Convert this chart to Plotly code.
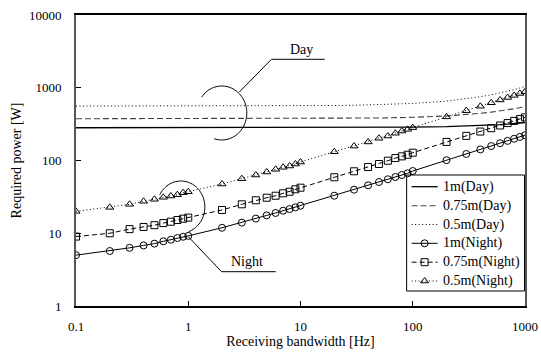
import numpy as np
import plotly.graph_objects as go

# ---------------- data ----------------
bandwidth = [0.1, 0.2, 0.3, 0.4, 0.5, 0.6, 0.7, 0.8, 0.9,
             1, 2, 3, 4, 5, 6, 7, 8, 9,
             10, 20, 30, 40, 50, 60, 70, 80, 90,
             100, 200, 300, 400, 500, 600, 700, 800, 900, 1000]

day_1m = [282, 282, 282, 282, 282, 282, 282, 282, 282,
          282, 282.1, 282.2, 282.2, 282.3, 282.3, 282.4, 282.4, 282.5,
          282.5, 283, 283.5, 284, 284.5, 285, 285.5, 286, 286.5,
          287, 292, 297, 302, 307, 312, 317, 322, 327, 332]
day_075m = [375, 375, 375, 375, 375, 375, 375, 375, 375,
            375, 375.3, 375.5, 375.7, 375.9, 376, 376.2, 376.4, 376.6,
            376.7, 378.5, 380.2, 382, 383.7, 385.4, 387.2, 388.9, 390.7,
            392.4, 410, 427, 445, 462, 479, 497, 514, 532, 549]
day_05m = [560, 560, 560, 560, 560, 560, 560, 560, 560,
           560, 561, 561.4, 562, 562.4, 563, 563.4, 564, 564.3,
           565, 570, 574, 579, 584, 589, 594, 598, 603,
           608, 656, 704, 752, 800, 848, 896, 944, 992, 1040]
night_1m = [5.0, 5.7, 6.3, 6.8, 7.2, 7.75, 8.15, 8.6, 8.95,
            9.2, 11.9, 14.0, 15.9, 17.6, 19.0, 20.4, 21.5, 22.7,
            23.9, 32.8, 39.7, 45.6, 50.6, 55.2, 59.3, 63.2, 66.7,
            71.7, 101, 123, 142, 158, 173, 186, 199, 211, 223]
night_075m = [9.0, 10.0, 11.4, 12.2, 12.9, 13.8, 14.4, 15.2, 15.85,
              16.4, 20.9, 25.0, 28.4, 30.8, 32.8, 35.4, 37.2, 40.2,
              42.3, 58.8, 71.1, 81.4, 89.5, 99.3, 108, 114, 120,
              128, 180, 218, 250, 278, 303, 327, 350, 371, 392]
night_05m = [20.0, 22.7, 25.0, 27.5, 29.3, 31.2, 32.5, 33.9, 36.1,
             37.2, 47.5, 56.2, 63.2, 69.5, 75.7, 80.7, 84.0, 89.5,
             95.3, 132, 158, 180, 202, 217, 237, 254, 268,
             283, 398, 484, 557, 622, 680, 735, 786, 835, 883]

series_names = ["1m(Day)", "0.75m(Day)", "0.5m(Day)",
                "1m(Night)", "0.75m(Night)", "0.5m(Night)"]
series_values = [day_1m, day_075m, day_05m, night_1m, night_075m, night_05m]

x_ticks = [0.1, 1, 10, 100, 1000]
x_ticktext = ["0.1", "1", "10", "100", "1000"]
y_ticks = [1, 10, 100, 1000, 10000]
y_ticktext = ["1", "10", "100", "1000", "10000"]

# ---------------- styles ----------------
line_styles = [
    dict(color="black", width=1.3),
    dict(color="#444444", width=1.1, dash="6px,3px"),
    dict(color="black", width=1, dash="1px,2.5px"),
    dict(color="black", width=1),
    dict(color="black", width=1, dash="5px,3px"),
    dict(color="black", width=1, dash="1px,2.5px"),
]
marker_symbols = [None, None, None, "circle-open", "square-open", "triangle-up-open"]

# ---------------- layout geometry (pixels) ----------------
W, H = 541, 358
ML, MR, MT, MB = 76, 15.5, 15, 52
PW, PH = W - ML - MR, H - MT - MB

def px(xp):
    return (xp - ML) / PW

def py(yp):
    return (MT + PH - yp) / PH

FONT = "Liberation Serif"

fig = go.Figure()

for name, vals, ls, sym in zip(series_names, series_values, line_styles, marker_symbols):
    if sym is None:
        fig.add_trace(go.Scatter(x=bandwidth, y=vals, name=name, mode="lines",
                                 line=ls, showlegend=False))
    else:
        fig.add_trace(go.Scatter(x=bandwidth, y=vals, name=name, mode="lines+markers",
                                 line=ls, showlegend=False,
                                 marker=dict(symbol=sym, size=7, color="black", line=dict(width=1))))

# ---------------- hand-drawn legend on an overlay (paper-like) axis ----------------
leg_rows = [186.7, 205.7, 224.5, 243.3, 262.2, 281]
leg_x0, leg_x1, leg_tx = 412, 438, 441
annotations = []
for name, ls, sym, ry in zip(series_names, line_styles, marker_symbols, leg_rows):
    fig.add_trace(go.Scatter(x=[px(leg_x0), px(leg_x1)], y=[py(ry), py(ry)], mode="lines",
                             line=ls, xaxis="x2", yaxis="y2", showlegend=False, hoverinfo="skip"))
    if sym is not None:
        fig.add_trace(go.Scatter(x=[px((leg_x0 + leg_x1) / 2)], y=[py(ry)], mode="markers",
                                 marker=dict(symbol=sym, size=7, color="black", line=dict(width=1)),
                                 xaxis="x2", yaxis="y2", showlegend=False, hoverinfo="skip"))
    annotations.append(dict(text=name, xref="paper", yref="paper", x=px(leg_tx), y=py(ry),
                            xanchor="left", yanchor="middle", showarrow=False,
                            font=dict(family=FONT, size=14, color="black")))

# ---------------- annotation shapes (decoration, pixel based) ----------------
def arc_path(cx, cy, rx, ry, a0, a1, n=60):
    t = np.radians(np.linspace(a0, a1, n))
    xs = cx + rx * np.cos(t)
    ys = cy + ry * np.sin(t)
    pts = [f"{px(a):.5f},{py(b):.5f}" for a, b in zip(xs, ys)]
    return "M" + " L".join(pts)

blk = dict(color="black", width=1)
shapes = [
    dict(type="rect", xref="paper", yref="paper", x0=px(407), y0=py(291), x1=px(525), y1=py(175),
         line=blk, fillcolor="white", layer="below"),
    dict(type="path", xref="paper", yref="paper", path=arc_path(222, 113, 25, 27, -144, 108), line=blk),
    dict(type="path", xref="paper", yref="paper", path=arc_path(181, 207, 24, 26, -152, 71), line=blk),
    dict(type="line", xref="paper", yref="paper", x0=px(239.5), y0=py(92), x1=px(271.7), y1=py(59.3), line=blk),
    dict(type="line", xref="paper", yref="paper", x0=px(271.7), y0=py(59.3), x1=px(325), y1=py(59.3), line=blk),
    dict(type="line", xref="paper", yref="paper", x0=px(188.3), y0=py(236.5), x1=px(221.7), y1=py(271.7), line=blk),
    dict(type="line", xref="paper", yref="paper", x0=px(221.7), y0=py(271.7), x1=px(276), y1=py(271.7), line=blk),
]

annotations += [
    dict(text="Day", xref="paper", yref="paper", x=px(301.7), y=py(49.5), showarrow=False,
         xanchor="center", yanchor="middle", font=dict(family=FONT, size=14, color="black")),
    dict(text="Night", xref="paper", yref="paper", x=px(246.7), y=py(261.7), showarrow=False,
         xanchor="center", yanchor="middle", font=dict(family=FONT, size=14, color="black")),
]

fig.update_layout(
    width=W, height=H,
    margin=dict(l=ML, r=MR, t=MT, b=MB, pad=0, autoexpand=False),
    paper_bgcolor="white", plot_bgcolor="white",
    font=dict(family=FONT, size=13, color="black"),
    shapes=shapes, annotations=annotations,
    showlegend=False,
    xaxis=dict(type="log", range=[-1, 3], tickvals=x_ticks, ticktext=x_ticktext,
               ticks="inside", ticklen=5, tickcolor="black", tickwidth=1,
               showline=True, linecolor="black", linewidth=2, mirror=True,
               showgrid=False, zeroline=False, ticklabelstandoff=7, automargin=False,
               tickfont=dict(family=FONT, size=13, color="black"),
               title=dict(text="Receiving bandwidth [Hz]", standoff=1,
                          font=dict(family=FONT, size=14, color="black"))),
    yaxis=dict(type="log", range=[0, 4], tickvals=y_ticks, ticktext=y_ticktext,
               ticks="inside", ticklen=5, tickcolor="black", tickwidth=1,
               showline=True, linecolor="#555555", linewidth=2, mirror=True,
               showgrid=False, zeroline=False, ticklabelstandoff=10, automargin=False,
               tickfont=dict(family=FONT, size=13, color="black"),
               title=dict(text="Required power [W]", standoff=4,
                          font=dict(family=FONT, size=14, color="black"))),
    xaxis2=dict(overlaying="x", range=[0, 1], visible=False, anchor="y2", fixedrange=True),
    yaxis2=dict(overlaying="y", range=[0, 1], visible=False, anchor="x2", fixedrange=True),
)

fig.write_html("out.html", config={"displayModeBar": False},
               post_script="document.body.style.margin='0px';")
